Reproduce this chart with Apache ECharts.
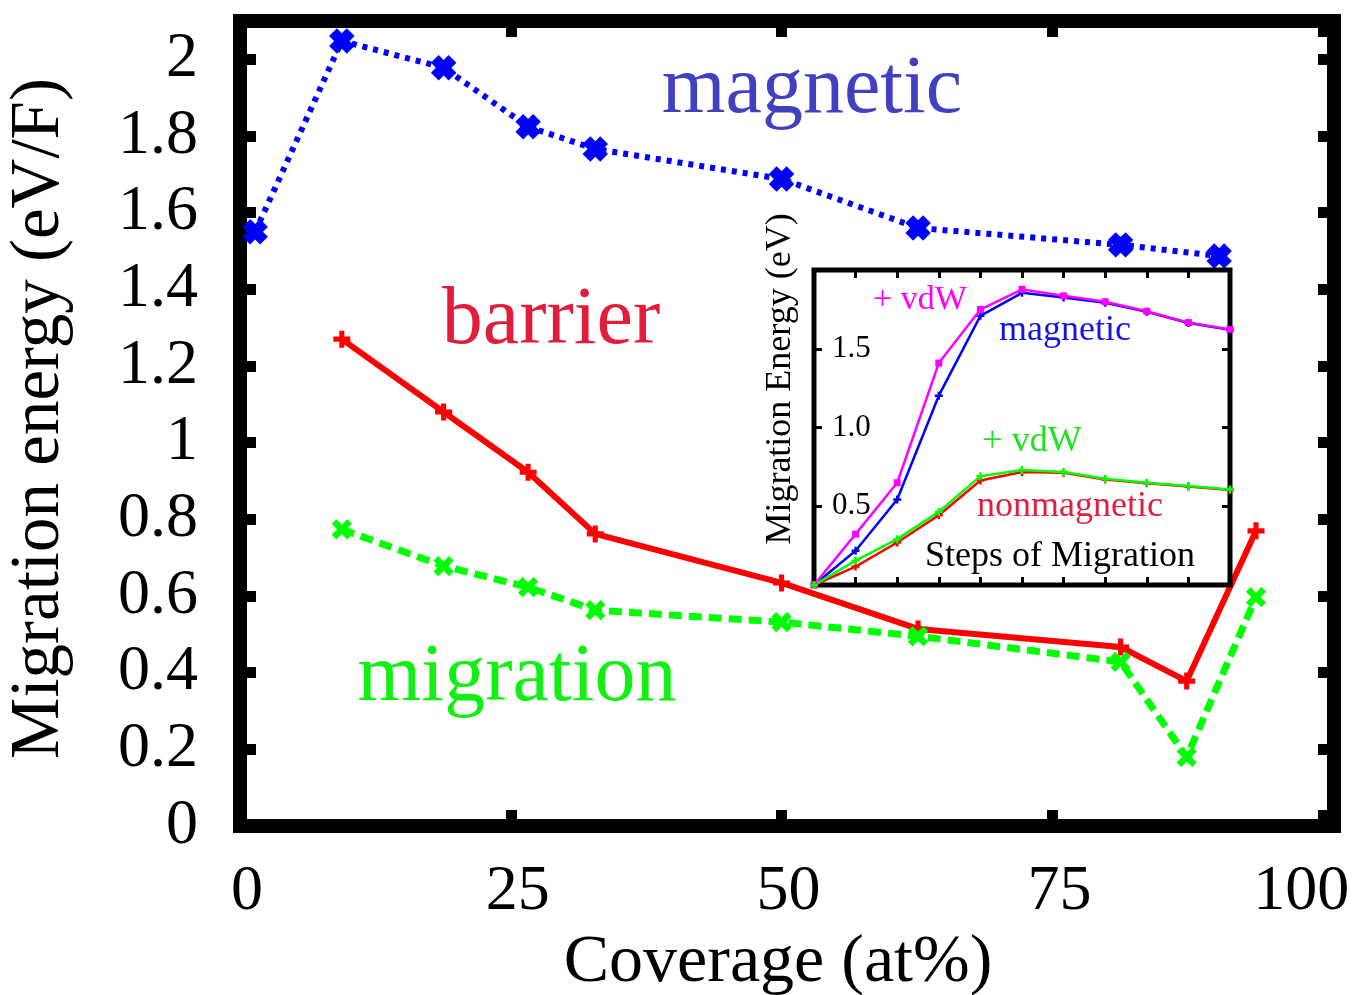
<!DOCTYPE html>
<html>
<head>
<meta charset="utf-8">
<script src="https://cdn.jsdelivr.net/npm/echarts@6/dist/echarts.min.js"></script>
<style>
html,body{margin:0;padding:0;background:#fff;}
#chart{width:1356px;height:995px;}
</style>
</head>
<body>
<div id="chart"></div>
<script>
// ---- main plot data ----
const magCoverage = [1.4, 9.4, 18.8, 26.6, 32.8, 50.0, 62.6, 81.3, 90.4];
const magEnergy   = [1.55, 2.048, 1.978, 1.824, 1.766, 1.688, 1.56, 1.516, 1.487];
const nmCoverage  = [9.4, 18.8, 26.6, 32.8, 50.0, 62.6, 81.3, 87.4, 93.8];
const barrierEnergy   = [1.27, 1.08, 0.923, 0.762, 0.634, 0.514, 0.467, 0.378, 0.77];
const migrationEnergy = [0.774, 0.678, 0.623, 0.563, 0.532, 0.495, 0.428, 0.18, 0.597];
const xTicks = [0, 25, 50, 75, 100];
const yTicks = [0, 0.2, 0.4, 0.6, 0.8, 1, 1.2, 1.4, 1.6, 1.8, 2];

// ---- inset data ----
const steps = [0, 1, 2, 3, 4, 5, 6, 7, 8, 9, 10];
const insetMagVdw = [0, 0.323, 0.649, 1.409, 1.749, 1.877, 1.836, 1.798, 1.738, 1.666, 1.623];
const insetMag    = [0, 0.217, 0.543, 1.202, 1.709, 1.855, 1.826, 1.792, 1.735, 1.663, 1.62];
const insetNmVdw  = [0, 0.155, 0.291, 0.464, 0.691, 0.730, 0.717, 0.674, 0.649, 0.628, 0.606];
const insetNm     = [0, 0.117, 0.270, 0.443, 0.664, 0.717, 0.713, 0.670, 0.646, 0.625, 0.603];
const insetYTicks = [0.5, 1.0, 1.5];

const serif = "'Liberation Serif', 'Times New Roman', serif";
const pair = (xs, ys) => xs.map((x, i) => [x, ys[i]]);

const plusPath = 'path://M35,0H65V35H100V65H65V100H35V65H0V35H35Z';
const fatPlusPath = 'path://M28,0H72V28H100V72H72V100H28V72H0V28H28Z';

const chart = echarts.init(document.getElementById('chart'));

function near(v, list) { return list.some(t => Math.abs(t - v) < 1e-6); }

const mkInsetTick = () => ({ show: true, inside: true, length: 8, lineStyle: { color: '#000', width: 3 } });
const mkMainTick = () => ({ show: true, inside: true, length: 16, lineStyle: { color: '#000', width: 11 } });
const noLine = () => ({ show: false, onZero: false });

const option = {
  backgroundColor: '#fff',
  animation: false,
  grid: [
    { left: 240, right: 22, top: 21, bottom: 169, show: true, borderColor: '#000', borderWidth: 14, backgroundColor: 'transparent', containLabel: false, outerBoundsMode: 'none' },
    { left: 814, right: 126, top: 270, bottom: 410, show: true, borderColor: '#000', borderWidth: 5, backgroundColor: '#fff', containLabel: false, outerBoundsMode: 'none', z: 5 }
  ],
  xAxis: [
    {
      gridIndex: 0, type: 'value', min: 0, max: 101, interval: 25, position: 'bottom',
      name: 'Coverage (at%)', nameLocation: 'middle', nameGap: 100,
      nameTextStyle: { fontFamily: serif, fontSize: 68, color: '#000', padding: [0, 18, 0, 0] },
      axisLine: noLine(),
      splitLine: { show: false },
      axisTick: mkMainTick(),
      axisLabel: {
        margin: 34, fontFamily: serif, fontSize: 64, color: '#000',
        formatter: v => near(v, xTicks) ? (v === 100 ? '{l|100}' : '{r|' + v + '}') : '',
        rich: {
          r: { fontFamily: serif, fontSize: 64, color: '#000', padding: [0, 0, 0, 14] },
          l: { fontFamily: serif, fontSize: 64, color: '#000', padding: [0, 44, 0, 0] }
        }
      }
    },
    {
      gridIndex: 0, type: 'value', min: 0, max: 101, interval: 25, position: 'top',
      axisLine: noLine(), splitLine: { show: false }, axisLabel: { show: false },
      axisTick: mkMainTick()
    },
    {
      gridIndex: 1, type: 'value', min: 0, max: 10, interval: 1, position: 'bottom', z: 6,
      axisLine: noLine(), splitLine: { show: false }, axisLabel: { show: false },
      axisTick: mkInsetTick()
    },
    {
      gridIndex: 1, type: 'value', min: 0, max: 10, interval: 1, position: 'top', z: 6,
      axisLine: noLine(), splitLine: { show: false }, axisLabel: { show: false },
      axisTick: mkInsetTick()
    }
  ],
  yAxis: [
    {
      gridIndex: 0, type: 'value', min: 0, max: 2.1, interval: 0.2, position: 'left',
      name: 'Migration energy (eV/F)', nameLocation: 'middle', nameGap: 166, nameRotate: 90,
      nameTextStyle: { fontFamily: serif, fontSize: 69, color: '#000', padding: [0, 0, 0, 10] },
      axisLine: noLine(), splitLine: { show: false },
      axisTick: mkMainTick(),
      axisLabel: {
        margin: 42, fontFamily: serif, fontSize: 64, color: '#000',
        formatter: v => near(v, yTicks) ? String(Math.round(v * 10) / 10) : ''
      }
    },
    {
      gridIndex: 0, type: 'value', min: 0, max: 2.1, interval: 0.2, position: 'right',
      axisLine: noLine(), splitLine: { show: false }, axisLabel: { show: false },
      axisTick: mkMainTick()
    },
    {
      gridIndex: 1, type: 'value', min: 0, max: 2, interval: 0.5, position: 'left', z: 6,
      axisLine: noLine(), splitLine: { show: false },
      axisTick: mkInsetTick(),
      axisLabel: {
        inside: true, margin: 18, fontFamily: serif, fontSize: 31, color: '#000',
        formatter: v => near(v, insetYTicks) ? v.toFixed(1) : ''
      }
    },
    {
      gridIndex: 1, type: 'value', min: 0, max: 2, interval: 0.5, position: 'right', z: 6,
      axisLine: noLine(), splitLine: { show: false }, axisLabel: { show: false },
      axisTick: mkInsetTick()
    }
  ],
  series: [
    {
      name: 'magnetic', type: 'line', xAxisIndex: 0, yAxisIndex: 0, z: 3,
      data: pair(magCoverage, magEnergy),
      lineStyle: { color: '#0000ff', width: 6, type: [5, 6] },
      symbol: fatPlusPath, symbolRotate: 45, symbolSize: 25, showAllSymbol: true,
      itemStyle: { color: '#0000ff' }
    },
    {
      name: 'barrier', type: 'line', xAxisIndex: 0, yAxisIndex: 0, z: 3,
      data: pair(nmCoverage, barrierEnergy),
      lineStyle: { color: '#ff0000', width: 6, type: 'solid' },
      symbol: plusPath, symbolSize: 17,
      itemStyle: { color: '#ff0000' }
    },
    {
      name: 'migration', type: 'line', xAxisIndex: 0, yAxisIndex: 0, z: 4,
      data: pair(nmCoverage, migrationEnergy),
      lineStyle: { color: '#00ff00', width: 7, type: [13, 7] },
      symbol: plusPath, symbolRotate: 45, symbolSize: 22,
      itemStyle: { color: '#00ff00' }
    },
    {
      name: 'inset magnetic', type: 'line', xAxisIndex: 2, yAxisIndex: 2, z: 10,
      data: pair(steps, insetMag),
      lineStyle: { color: '#0000ff', width: 2.5 },
      symbol: plusPath, symbolSize: 8, itemStyle: { color: '#0000ff' }
    },
    {
      name: 'inset magnetic + vdW', type: 'line', xAxisIndex: 2, yAxisIndex: 2, z: 11,
      data: pair(steps, insetMagVdw),
      lineStyle: { color: '#ff00ff', width: 2.5 },
      symbol: 'rect', symbolSize: 7, itemStyle: { color: '#ff00ff' }
    },
    {
      name: 'inset nonmagnetic', type: 'line', xAxisIndex: 2, yAxisIndex: 2, z: 10,
      data: pair(steps, insetNm),
      lineStyle: { color: '#ff0000', width: 2.5 },
      symbol: plusPath, symbolSize: 8, itemStyle: { color: '#ff0000' }
    },
    {
      name: 'inset nonmagnetic + vdW', type: 'line', xAxisIndex: 2, yAxisIndex: 2, z: 11,
      data: pair(steps, insetNmVdw),
      lineStyle: { color: '#00ff00', width: 2.5 },
      symbol: plusPath, symbolSize: 8, itemStyle: { color: '#00ff00' }
    }
  ],
  graphic: [
    { type: 'text', x: 812, y: 90, z: 20, style: { text: 'magnetic', fill: '#4040c0', font: '82px ' + serif, align: 'center', verticalAlign: 'middle' } },
    { type: 'text', x: 551, y: 321, z: 20, style: { text: 'barrier', fill: '#e01e3c', font: '82px ' + serif, align: 'center', verticalAlign: 'middle' } },
    { type: 'text', x: 517, y: 678, z: 20, style: { text: 'migration', fill: '#11f011', font: '82px ' + serif, align: 'center', verticalAlign: 'middle' } },
    { type: 'text', x: 781, y: 379, rotation: Math.PI / 2, z: 30, style: { text: 'Migration Energy (eV)', fill: '#000', font: '36px ' + serif, align: 'center', verticalAlign: 'middle' } },
    { type: 'text', x: 920, y: 300, z: 30, style: { text: '+ vdW', fill: '#ff00ff', font: '34px ' + serif, align: 'center', verticalAlign: 'middle' } },
    { type: 'text', x: 1065, y: 331, z: 30, style: { text: 'magnetic', fill: '#1515e0', font: '36px ' + serif, align: 'center', verticalAlign: 'middle' } },
    { type: 'text', x: 1032, y: 442, z: 30, style: { text: '+ vdW', fill: '#22e022', font: '36px ' + serif, align: 'center', verticalAlign: 'middle' } },
    { type: 'text', x: 1070, y: 507, z: 30, style: { text: 'nonmagnetic', fill: '#e02040', font: '36px ' + serif, align: 'center', verticalAlign: 'middle' } },
    { type: 'text', x: 1060, y: 557, z: 30, style: { text: 'Steps of Migration', fill: '#000', font: '36px ' + serif, align: 'center', verticalAlign: 'middle' } }
  ]
};
chart.setOption(option);
</script>
</body>
</html>
